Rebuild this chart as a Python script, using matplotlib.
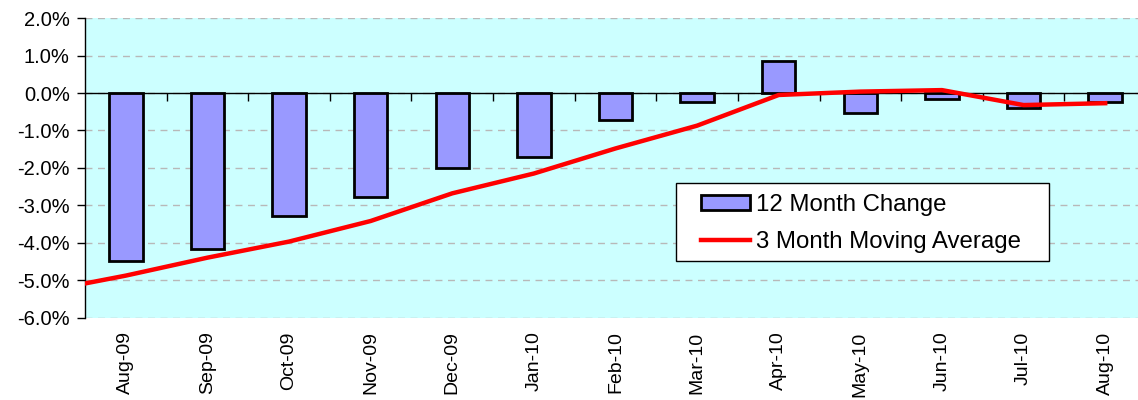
import matplotlib
matplotlib.use("Agg")
import matplotlib.pyplot as plt
import numpy as np
from matplotlib.patches import Rectangle
from matplotlib.ticker import FuncFormatter, MultipleLocator

plt.rcParams["font.family"] = ["Liberation Sans", "DejaVu Sans"]

# Monthly 12-month change (%) and its 3-month moving average (%)
months = ["Aug-09", "Sep-09", "Oct-09", "Nov-09", "Dec-09", "Jan-10", "Feb-10",
          "Mar-10", "Apr-10", "May-10", "Jun-10", "Jul-10", "Aug-10"]
change_12m = [-4.48, -4.17, -3.29, -2.78, -2.01, -1.70, -0.71,
              -0.25, 0.85, -0.52, -0.15, -0.39, -0.24]
# the moving average series starts one month earlier (Jul-09)
ma_months = ["Jul-09"] + months
ma_3m = [-5.30, -4.88, -4.40, -3.97, -3.42, -2.68, -2.15, -1.48,
         -0.87, -0.05, 0.04, 0.08, -0.32, -0.27]

W, H = 1138, 400
fig = plt.figure(figsize=(W / 100, H / 100), dpi=100)
ax = fig.add_axes([85 / W, 1 - 317.5 / H, (1146 - 85) / W, (317.5 - 18.3) / H])
ax.set_facecolor("#CCFFFF")

x = np.arange(len(months))
x_ma = np.arange(len(ma_months)) - 1

ax.set_xlim(-0.5, len(months) - 0.5)
ax.set_ylim(-6, 2)

# dashed horizontal gridlines
ax.yaxis.set_major_locator(MultipleLocator(1))
ax.grid(axis="y", color="#B8B8B8", linestyle=(0, (5, 4)), linewidth=1, zorder=0)
ax.set_axisbelow(True)

bars = ax.bar(x, change_12m, width=0.41, color="#9999FF", edgecolor="black",
              linewidth=2, zorder=2, label="12 Month Change")
line, = ax.plot(x_ma, ma_3m, color="#FF0000", linewidth=3.2, zorder=3,
                solid_joinstyle="round", label="3 Month Moving Average")

# category axis crossing at zero, with ticks between categories
ax.axhline(0, color="black", linewidth=1, zorder=2.5)
bounds = np.arange(len(months) + 1) - 0.5
ax.plot(bounds[1:], np.zeros(len(bounds) - 1), linestyle="none", marker=3,
        markersize=6, markeredgewidth=1, color="black", zorder=2.5, clip_on=False)

for side in ("top", "right", "bottom"):
    ax.spines[side].set_visible(False)
ax.spines["left"].set_linewidth(1)

ax.yaxis.set_major_formatter(FuncFormatter(lambda v, p: f"{v:.1f}%"))
ax.tick_params(axis="y", direction="out", length=6, width=1, labelsize=14.5, pad=5)

ax.set_xticks(x)
ax.set_xticklabels(months, rotation=90, fontsize=14)
ax.tick_params(axis="x", length=0, pad=10)

# legend box
box = Rectangle((676 / W, 1 - 261.3 / H), (1049 - 676) / W, (261.3 - 183.3) / H,
                transform=fig.transFigure, facecolor="white", edgecolor="black",
                linewidth=1, zorder=4)
fig.patches.append(box)

leg = fig.legend(handles=[bars, line], loc="upper left",
                 bbox_to_anchor=(701 / W, 1 - 194 / H),
                 fontsize=17.3, frameon=False,
                 handlelength=2.05, handleheight=0.6, handletextpad=0.25,
                 borderpad=0.0, labelspacing=0.62, borderaxespad=0)
leg.set_zorder(5)

fig.savefig("out.png", dpi=100)
